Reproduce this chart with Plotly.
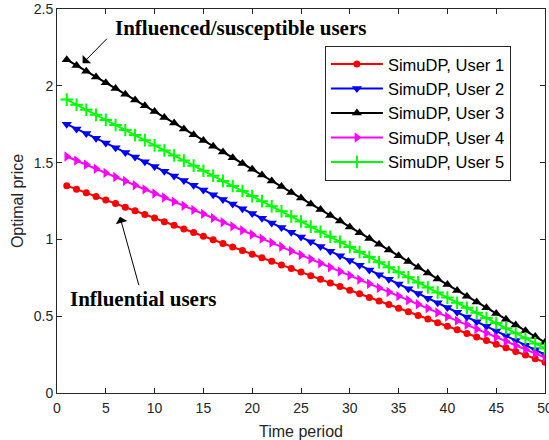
import plotly.graph_objects as go

t = list(range(1, 51))

user1 = [1.350, 1.327, 1.303, 1.280, 1.256, 1.233, 1.209, 1.186, 1.162, 1.139,
         1.115, 1.092, 1.068, 1.045, 1.021, 0.998, 0.974, 0.951, 0.928, 0.904,
         0.881, 0.857, 0.834, 0.810, 0.787, 0.763, 0.740, 0.716, 0.693, 0.669,
         0.646, 0.622, 0.599, 0.576, 0.552, 0.529, 0.505, 0.482, 0.458, 0.435,
         0.411, 0.388, 0.364, 0.341, 0.317, 0.294, 0.270, 0.247, 0.223, 0.200]
user2 = [1.750, 1.719, 1.689, 1.658, 1.628, 1.597, 1.566, 1.536, 1.505, 1.474,
         1.444, 1.413, 1.383, 1.352, 1.321, 1.291, 1.260, 1.230, 1.199, 1.168,
         1.138, 1.107, 1.077, 1.046, 1.015, 0.985, 0.954, 0.923, 0.893, 0.862,
         0.832, 0.801, 0.770, 0.740, 0.709, 0.679, 0.648, 0.617, 0.587, 0.556,
         0.526, 0.495, 0.464, 0.434, 0.403, 0.372, 0.342, 0.311, 0.281, 0.250]
user3 = [2.170, 2.132, 2.095, 2.057, 2.020, 1.982, 1.945, 1.907, 1.870, 1.832,
         1.794, 1.757, 1.719, 1.682, 1.644, 1.607, 1.569, 1.532, 1.494, 1.457,
         1.419, 1.381, 1.344, 1.306, 1.269, 1.231, 1.194, 1.156, 1.119, 1.081,
         1.043, 1.006, 0.968, 0.931, 0.893, 0.856, 0.818, 0.781, 0.743, 0.706,
         0.668, 0.630, 0.593, 0.555, 0.518, 0.480, 0.443, 0.405, 0.368, 0.330]
user4 = [1.540, 1.513, 1.487, 1.460, 1.433, 1.406, 1.380, 1.353, 1.326, 1.299,
         1.273, 1.246, 1.219, 1.192, 1.166, 1.139, 1.112, 1.085, 1.059, 1.032,
         1.005, 0.979, 0.952, 0.925, 0.898, 0.872, 0.845, 0.818, 0.791, 0.765,
         0.738, 0.711, 0.684, 0.658, 0.631, 0.604, 0.578, 0.551, 0.524, 0.497,
         0.471, 0.444, 0.417, 0.390, 0.364, 0.337, 0.310, 0.283, 0.257, 0.230]
user5 = [1.910, 1.877, 1.844, 1.811, 1.778, 1.745, 1.712, 1.679, 1.646, 1.612,
         1.579, 1.546, 1.513, 1.480, 1.447, 1.414, 1.381, 1.348, 1.315, 1.282,
         1.249, 1.216, 1.183, 1.150, 1.117, 1.083, 1.050, 1.017, 0.984, 0.951,
         0.918, 0.885, 0.852, 0.819, 0.786, 0.753, 0.720, 0.687, 0.654, 0.621,
         0.588, 0.555, 0.522, 0.488, 0.455, 0.422, 0.389, 0.356, 0.323, 0.290]

names = ["SimuDP, User 1", "SimuDP, User 2", "SimuDP, User 3", "SimuDP, User 4", "SimuDP, User 5"]
series = [user1, user2, user3, user4, user5]
colors = ["#FF0000", "#0000FF", "#000000", "#FF00FF", "#00FF00"]
symbols = ["circle", "triangle-down", "triangle-up", "triangle-right", "cross-thin"]
sizes = [7, 9, 9, 9, 9]

fig = go.Figure()
for name, ys, c, s, sz in zip(names, series, colors, symbols, sizes):
    fig.add_trace(go.Scatter(
        x=t, y=ys, name=name, mode="lines+markers",
        line=dict(color=c, width=2),
        marker=dict(symbol=s, size=sz, color=c, line=dict(color=c, width=2 if s == "cross-thin" else 0)),
    ))

axcol = "#262626"
axis_common = dict(
    showgrid=False, zeroline=False, showline=True, linecolor=axcol, linewidth=1,
    mirror="ticks", ticks="inside", ticklen=5, tickcolor=axcol, tickwidth=1,
    automargin=False, ticklabeloverflow="allow",
    tickfont=dict(family="Liberation Sans, Arial", size=14, color=axcol),
)

fig.update_layout(
    width=549, height=440,
    margin=dict(l=57, r=4, t=9, b=47, autoexpand=False),
    paper_bgcolor="white", plot_bgcolor="white",
    xaxis=dict(range=[0, 50], tickvals=[0, 5, 10, 15, 20, 25, 30, 35, 40, 45, 50],
               ticklabelstandoff=2,
               title=dict(text="Time period", font=dict(family="Liberation Sans, Arial", size=16, color=axcol), standoff=11),
               **axis_common),
    yaxis=dict(range=[0, 2.5], tickvals=[0, 0.5, 1, 1.5, 2, 2.5],
               ticktext=["0", "0.5", "1", "1.5", "2", "2.5"],
               title=dict(text="Optimal price", font=dict(family="Liberation Sans, Arial", size=16, color=axcol), standoff=6),
               **axis_common),
    legend=dict(x=0.549, y=0.904, xanchor="left", yanchor="top",
                bgcolor="white", bordercolor=axcol, borderwidth=1,
                font=dict(family="Liberation Sans, Arial", size=16.5, color="#000000"),
                itemwidth=52, tracegroupgap=0),
    showlegend=True,
)

serif = dict(family="Liberation Serif, Times New Roman", size=21, color="#000000")
fig.add_annotation(x=5.74, y=2.376, xref="x", yref="y", text="<b>Influenced/susceptible users</b>",
                   showarrow=False, xanchor="left", yanchor="middle", font=serif)
fig.add_annotation(x=1.13, y=0.612, xref="x", yref="y", text="<b>Influential users</b>",
                   showarrow=False, xanchor="left", yanchor="middle", font=serif)
fig.add_annotation(x=2.63, y=2.146, ax=5.26, ay=2.316, xref="x", yref="y", axref="x", ayref="y",
                   text="", showarrow=True, arrowhead=1, arrowsize=2, arrowwidth=1, arrowcolor="#000000")
fig.add_annotation(x=6.45, y=1.147, ax=8.43, ay=0.692, xref="x", yref="y", axref="x", ayref="y",
                   text="", showarrow=True, arrowhead=1, arrowsize=2, arrowwidth=1, arrowcolor="#000000")

fig.write_html("out.html", config={"displayModeBar": False},
               post_script="document.body.style.margin='0px';document.body.style.overflow='hidden';")
